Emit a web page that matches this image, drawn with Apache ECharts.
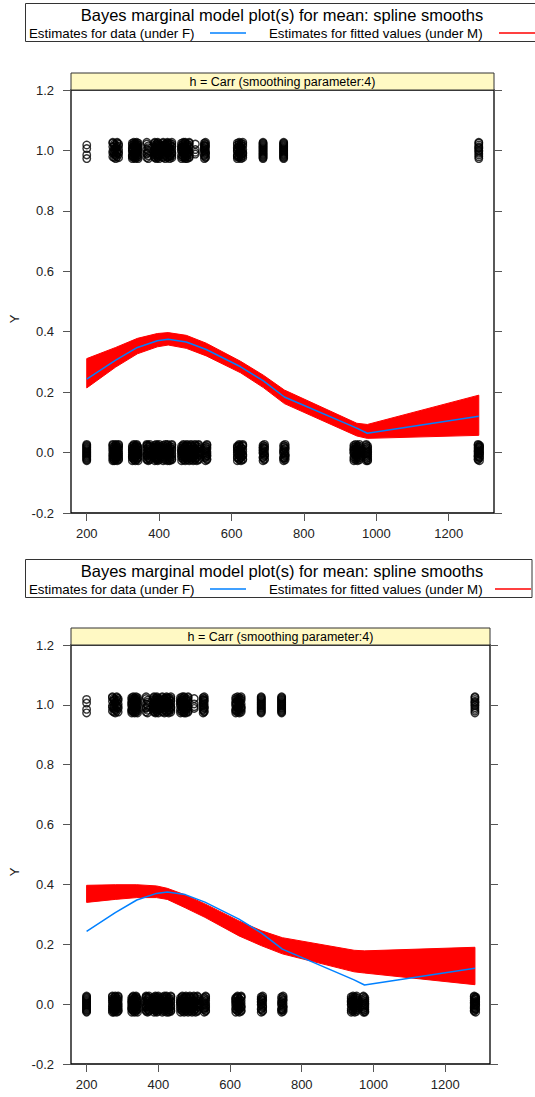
<!DOCTYPE html>
<html>
<head>
<meta charset="utf-8">
<script src="https://cdn.jsdelivr.net/npm/echarts@6/dist/echarts.min.js"></script>
<style>
  html, body { margin: 0; padding: 0; background: #fff; }
  #chart { width: 535px; height: 1097px; }
</style>
</head>
<body>
<div id="chart"></div>
<script>
// tick labels
const xTicks = [200, 400, 600, 800, 1000, 1200];

// x values where the smooths are evaluated
const splineX = [200, 280, 340, 395, 425, 475, 530, 625, 688, 746, 946, 975, 1283];
// blue: estimates for data (same in both panels)
const blueY = [0.243, 0.306, 0.348, 0.370, 0.375, 0.366, 0.341, 0.284, 0.237, 0.184, 0.081, 0.064, 0.120];
// red: envelope of the fitted-value smooths, top panel
const redHigh1 = [0.311, 0.348, 0.378, 0.394, 0.397, 0.388, 0.362, 0.302, 0.256, 0.207, 0.097, 0.093, 0.190];
const redLow1 = [0.214, 0.283, 0.327, 0.350, 0.356, 0.345, 0.320, 0.264, 0.215, 0.162, 0.055, 0.047, 0.057];
// red: envelope, bottom panel
const redHigh2 = [0.397, 0.399, 0.399, 0.395, 0.387, 0.365, 0.335, 0.278, 0.245, 0.222, 0.180, 0.178, 0.190];
const redLow2 = [0.340, 0.350, 0.356, 0.356, 0.350, 0.322, 0.290, 0.228, 0.195, 0.168, 0.108, 0.104, 0.065];

// observed x values with Y = 0, and how many observations sit at each
const zeroX = [200, 272, 276, 280, 284, 288, 326, 330, 334, 338, 342, 366, 370, 374,
  388, 392, 396, 400, 411, 417, 423, 429, 435, 462, 467, 472, 477, 483, 488,
  494, 499, 504, 509, 528, 532, 616, 621, 626, 631, 687, 691, 744, 748,
  938, 943, 948, 953, 972, 976, 1281, 1285];
const zeroN = [19, 10, 10, 10, 10, 10, 10, 10, 10, 10, 10, 10, 10, 9,
  10, 10, 10, 10, 10, 10, 11, 10, 10, 10, 10, 11, 10, 10, 9,
  9, 9, 9, 9, 10, 10, 10, 10, 10, 10, 10, 10, 10, 10,
  10, 10, 10, 10, 10, 10, 12, 12];
// observed x values with Y = 1, and counts
const oneX = [200, 272, 276, 280, 284, 288, 326, 330, 334, 338, 342, 366, 370,
  388, 392, 396, 400, 411, 417, 423, 429, 435, 462, 467, 472, 477, 483,
  500, 525, 528, 616, 621, 626, 631, 687, 744, 1283];
const oneN = [4, 6, 6, 7, 6, 6, 10, 10, 10, 10, 9, 6, 6,
  10, 10, 10, 10, 10, 11, 11, 10, 10, 10, 11, 11, 10, 9,
  4, 10, 10, 10, 10, 10, 9, 19, 19, 12];
// vertical jitter used to display the 0/1 responses
const jitterY = [-0.027, 0.006, -0.015, 0.018, -0.003, 0.024, -0.021, 0.012, -0.009, 0.027,
  -0.024, 0.003, -0.012, 0.021, -0.006, 0.015, -0.018, 0.009, 0.000];

const font = "'Liberation Sans', Arial, Helvetica, sans-serif";
const BLUE = '#0080ff', RED = '#ff0000';
const nameF = 'Estimates for data (under F)';
const nameM = 'Estimates for fitted values (under M)';

// panel geometry
const panels = [
  { left: 71, top: 90, right: 494, bottom: 513, dy: 0, boxW: 545, redX: 499, redEnd: 540 },
  { left: 71, top: 645, right: 490, bottom: 1064, dy: 556, boxW: 506.5, redX: 495, redEnd: 531 }
];

function pointData(xs, ns, level) {
  let out = [], k = 0;
  xs.forEach((x, i) => {
    for (let j = 0; j < ns[i]; j++) {
      out.push([x, level + jitterY[k % jitterY.length]]);
      k++;
    }
  });
  return out;
}

function bandSeries(gi, hi, lo) {
  return {
    type: 'custom',
    name: nameM,
    xAxisIndex: gi,
    yAxisIndex: gi * 2,
    silent: true,
    z: 3,
    data: [[splineX[0], hi[0]]],
    renderItem: function (params, api) {
      const top = splineX.map((x, i) => api.coord([x, hi[i]]));
      const bot = splineX.map((x, i) => api.coord([x, lo[i]])).reverse();
      return {
        type: 'polygon',
        shape: { points: top.concat(bot) },
        style: { fill: RED, stroke: RED, lineWidth: 1 }
      };
    }
  };
}

let grid = [], xAxis = [], yAxis = [], series = [], graphic = [];

panels.forEach((p, gi) => {
  grid.push({
    left: p.left, top: p.top, width: p.right - p.left, height: p.bottom - p.top,
    show: true, borderColor: '#000', borderWidth: 1.3, backgroundColor: 'transparent'
  });
  xAxis.push({
    gridIndex: gi, type: 'value', min: 156.5, max: 1325, position: 'bottom',
    axisLine: { show: false, onZero: false },
    splitLine: { show: false },
    axisTick: { show: true, customValues: xTicks, length: 8, lineStyle: { color: '#555' } },
    axisLabel: { customValues: xTicks, fontSize: 13, color: '#222', fontFamily: font, margin: 14,
      formatter: v => String(v) }
  });
  const yBase = {
    gridIndex: gi, type: 'value', min: -0.2, max: 1.2, interval: 0.2,
    axisLine: { show: false, onZero: false },
    splitLine: { show: false },
    axisTick: { show: true, length: 8, lineStyle: { color: '#555' } }
  };
  yAxis.push(Object.assign({}, yBase, {
    position: 'left',
    axisLabel: {
      fontSize: 13, color: '#222', fontFamily: font, margin: 17,
      formatter: v => (Math.abs(v) < 1e-9 ? '0.0' : v.toFixed(1))
    }
  }));
  yAxis.push(Object.assign({}, yBase, { position: 'right', axisLabel: { show: false } }));

  series.push({
    type: 'scatter', xAxisIndex: gi, yAxisIndex: gi * 2, silent: true, z: 2,
    symbol: 'circle', symbolSize: 7.5,
    itemStyle: { color: 'rgba(0,0,0,0)', borderColor: '#000', borderWidth: 1.4 },
    data: pointData(zeroX, zeroN, 0).concat(pointData(oneX, oneN, 1))
  });
  series.push(bandSeries(gi, gi === 0 ? redHigh1 : redHigh2, gi === 0 ? redLow1 : redLow2));
  series.push({
    type: 'line', name: nameF, xAxisIndex: gi, yAxisIndex: gi * 2, silent: true, z: 4,
    showSymbol: false, lineStyle: { color: BLUE, width: 1.5 }, itemStyle: { color: BLUE },
    data: splineX.map((x, i) => [x, blueY[i]])
  });

  const dy = p.dy;
  const cx = (p.left + p.right) / 2;
  // title / key box
  graphic.push({ type: 'rect', shape: { x: 25.5, y: 3.5 + dy, width: p.boxW, height: 38 },
    style: { fill: 'none', stroke: '#333', lineWidth: 1 } });
  graphic.push({ type: 'text', x: 282, y: 14.5 + dy,
    style: { text: 'Bayes marginal model plot(s) for mean: spline smooths', font: '16.5px ' + font,
      fill: '#000', textAlign: 'center', textVerticalAlign: 'middle' } });
  graphic.push({ type: 'text', x: 29, y: 33 + dy,
    style: { text: nameF, font: '13.3px ' + font, fill: '#000', textAlign: 'left', textVerticalAlign: 'middle' } });
  graphic.push({ type: 'line', shape: { x1: 210, y1: 33 + dy, x2: 246, y2: 33 + dy },
    style: { stroke: BLUE, lineWidth: 1.5 } });
  graphic.push({ type: 'text', x: 269, y: 33 + dy,
    style: { text: nameM, font: '13.3px ' + font, fill: '#000', textAlign: 'left', textVerticalAlign: 'middle' } });
  graphic.push({ type: 'line', shape: { x1: p.redX, y1: 33 + dy, x2: p.redEnd, y2: 33 + dy },
    style: { stroke: RED, lineWidth: 1.5 } });
  // strip
  graphic.push({ type: 'rect', shape: { x: p.left, y: p.top - 17, width: p.right - p.left, height: 17 },
    style: { fill: '#fff9c4', stroke: '#333', lineWidth: 1 } });
  graphic.push({ type: 'text', x: cx, y: p.top - 8.5,
    style: { text: 'h = Carr (smoothing parameter:4)', font: '12.5px ' + font, fill: '#000',
      textAlign: 'center', textVerticalAlign: 'middle' } });
  // y axis title
  graphic.push({ type: 'text', x: 14, y: (gi === 0 ? 319 : 872), rotation: Math.PI / 2,
    style: { text: 'Y', font: '13px ' + font, fill: '#222', textAlign: 'center', textVerticalAlign: 'middle' } });
});

const chart = echarts.init(document.getElementById('chart'), null, { renderer: 'svg' });
chart.setOption({
  animation: false,
  backgroundColor: '#fff',
  grid: grid,
  xAxis: xAxis,
  yAxis: yAxis,
  series: series,
  graphic: graphic
});
</script>
</body>
</html>
